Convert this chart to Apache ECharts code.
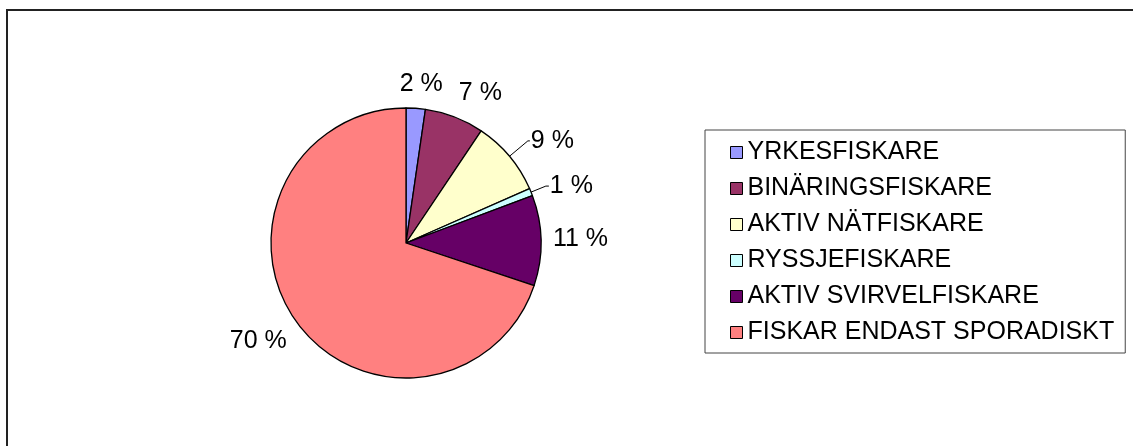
<!DOCTYPE html>
<html>
<head>
<meta charset="utf-8">
<script src="https://cdn.jsdelivr.net/npm/echarts@6/dist/echarts.min.js"></script>
<style>
  html, body { margin: 0; padding: 0; background: #fff; }
  #main { width: 1133px; height: 446px; }
</style>
</head>
<body>
<div id="main"></div>
<script>
// kategorier och andelar (procent)
var names = ['YRKESFISKARE', 'BINÄRINGSFISKARE', 'AKTIV NÄTFISKARE', 'RYSSJEFISKARE', 'AKTIV SVIRVELFISKARE', 'FISKAR ENDAST SPORADISKT'];
var values = [2.3, 7.1, 9.0, 0.9, 10.8, 69.9];
var colors = ['#9999FF', '#993366', '#FFFFCC', '#CCFFFF', '#660066', '#FF8080'];

// etiketter som har en hänvisningslinje
var leaderIdx = [2, 3];
var leaderLen = { 2: [24, 2], 3: [16, 3] };

var myChart = echarts.init(document.getElementById('main'));

var data = [];
for (let i = 0; i < names.length; i++) {
  let obj = { name: names[i], value: values[i], itemStyle: { color: colors[i] } };
  if (leaderIdx.indexOf(i) >= 0) {
    obj.labelLine = { length: leaderLen[i][0], length2: leaderLen[i][1], lineStyle: { color: '#000', width: 1, opacity: 1 } };
  }
  data.push(obj);
}

function clamp(v) { return Math.max(-1, Math.min(1, v)); }

var option = {
  backgroundColor: '#fff',
  animation: false,
  textStyle: { fontFamily: 'Liberation Sans, Arial, sans-serif' },
  graphic: [
    {
      type: 'rect',
      shape: { x: 7, y: 10, width: 1200, height: 500 },
      style: { fill: 'none', stroke: '#222', lineWidth: 2 },
      silent: true
    }
  ],
  legend: {
    orient: 'vertical',
    left: 705,
    top: 130,
    padding: [10, 11, 8, 25],
    itemGap: 11,
    itemWidth: 12,
    itemHeight: 12,
    icon: 'rect',
    borderColor: '#444',
    borderWidth: 1,
    itemStyle: { borderColor: '#000', borderWidth: 1 },
    textStyle: { color: '#000', fontSize: 25, lineHeight: 25, fontFamily: 'Liberation Sans, Arial, sans-serif' },
    data: names
  },
  series: [
    {
      type: 'pie',
      center: [406, 243],
      radius: 135,
      startAngle: 90,
      clockwise: true,
      avoidLabelOverlap: false,
      itemStyle: { borderColor: '#000', borderWidth: 1.3 },
      label: {
        show: true,
        position: 'outside',
        color: '#000',
        fontSize: 25,
        lineHeight: 24,
        distanceToLabelLine: 1,
        fontFamily: 'Liberation Sans, Arial, sans-serif',
        formatter: function (p) { return Math.round(p.percent) + ' %'; }
      },
      labelLine: { show: true, length: 10, length2: 0, lineStyle: { opacity: 0 } },
      labelLayout: function (params) {
        if (leaderIdx.indexOf(params.dataIndex) >= 0) return {};
        var pts = params.labelLinePoints;
        if (!pts) return {};
        var p0 = pts[0], p1 = pts[1];
        var len = Math.sqrt((p1[0] - p0[0]) * (p1[0] - p0[0]) + (p1[1] - p0[1]) * (p1[1] - p0[1]));
        var ux = (p1[0] - p0[0]) / len, uy = (p1[1] - p0[1]) / len;
        var g = 12;
        var w = params.labelRect.width, h = params.labelRect.height;
        return {
          x: p0[0] + ux * g + clamp(3 * ux) * w / 2,
          y: p0[1] + uy * g + clamp(3 * uy) * h / 2,
          align: 'center',
          verticalAlign: 'middle'
        };
      },
      emphasis: { disabled: true },
      data: data
    }
  ]
};

myChart.setOption(option);
</script>
</body>
</html>
